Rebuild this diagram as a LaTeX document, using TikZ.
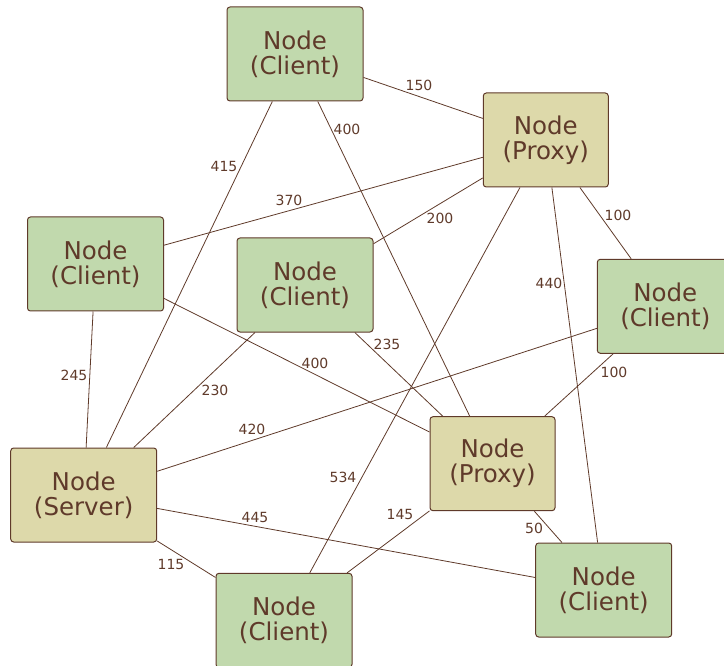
\documentclass[tikz,border=0pt]{standalone}
\usepackage{fontspec}
\setmainfont{DejaVu Sans}
\definecolor{ink}{RGB}{95,58,42}
\definecolor{clientfill}{RGB}{193,217,173}
\definecolor{proxyfill}{RGB}{221,217,170}

\begin{document}
\begin{tikzpicture}[x=1pt,y=-1pt,
  box/.style={draw=ink, line width=1pt, rounded corners=3pt, inner sep=0pt,
    align=center, text=ink, font=\fontsize{24.5}{25}\selectfont},
  client/.style={box, fill=clientfill, minimum width=136pt, minimum height=94pt},
  proxy/.style={box, fill=proxyfill, minimum width=125pt, minimum height=94pt},
  server/.style={box, fill=proxyfill, minimum width=146pt, minimum height=94pt},
  link/.style={draw=ink, line width=0.8pt},
  weight/.style={text=ink, font=\fontsize{14}{14}\selectfont, inner sep=0pt}]

\useasboundingbox (0,0) rectangle (724,666);
\clip (0,0) rectangle (724,666);

% hosts
\node[client] (c1) at (295,54)      {Node\\(Client)};
\node[proxy]  (p1) at (545.8,140)   {Node\\(Proxy)};
\node[client] (c2) at (95.5,264)    {Node\\(Client)};
\node[client] (c3) at (305,285)     {Node\\(Client)};
\node[client] (c4) at (665.3,306.3) {Node\\(Client)};
\node[server] (s)  at (83.7,495)    {Node\\(Server)};
\node[proxy]  (p2) at (492.5,463.7) {Node\\(Proxy)};
\node[client] (c5) at (603.7,590)   {Node\\(Client)};
\node[client] (c6) at (284,620.3)   {Node\\(Client)};

% links
\draw[link] (c1) -- (p1);
\draw[link] (c1) -- (s);
\draw[link] (c1) -- (p2);
\draw[link] (p1) -- (c2);
\draw[link] (p1) -- (c3);
\draw[link] (p1) -- (c4);
\draw[link] (p1) -- (c6);
\draw[link] (p1) -- (c5);
\draw[link] (c2) -- (s);
\draw[link] (c2) -- (p2);
\draw[link] (c3) -- (s);
\draw[link] (c3) -- (p2);
\draw[link] (c4) -- (s);
\draw[link] (c4) -- (p2);
\draw[link] (s)  -- (c5);
\draw[link] (s)  -- (c6);
\draw[link] (p2) -- (c6);
\draw[link] (p2) -- (c5);

% link weights
\node[weight] (w1)  at (419,85)  {150};
\node[weight] (w2)  at (224,166) {415};
\node[weight] (w3)  at (347,129) {400};
\node[weight] (w4)  at (289,200) {370};
\node[weight] (w5)  at (440,218) {200};
\node[weight] (w6)  at (618,215) {100};
\node[weight] (w7)  at (549,283) {440};
\node[weight] (w8)  at (74,375)  {245};
\node[weight] (w9)  at (215,390) {230};
\node[weight] (w10) at (315,363) {400};
\node[weight] (w11) at (252,429) {420};
\node[weight] (w12) at (387,344) {235};
\node[weight] (w13) at (614,372) {100};
\node[weight] (w14) at (343,477) {534};
\node[weight] (w15) at (255,517) {445};
\node[weight] (w16) at (400,514) {145};
\node[weight] (w17) at (171,564) {115};
\node[weight] (w18) at (534,528) {50};
\end{tikzpicture}
\end{document}
